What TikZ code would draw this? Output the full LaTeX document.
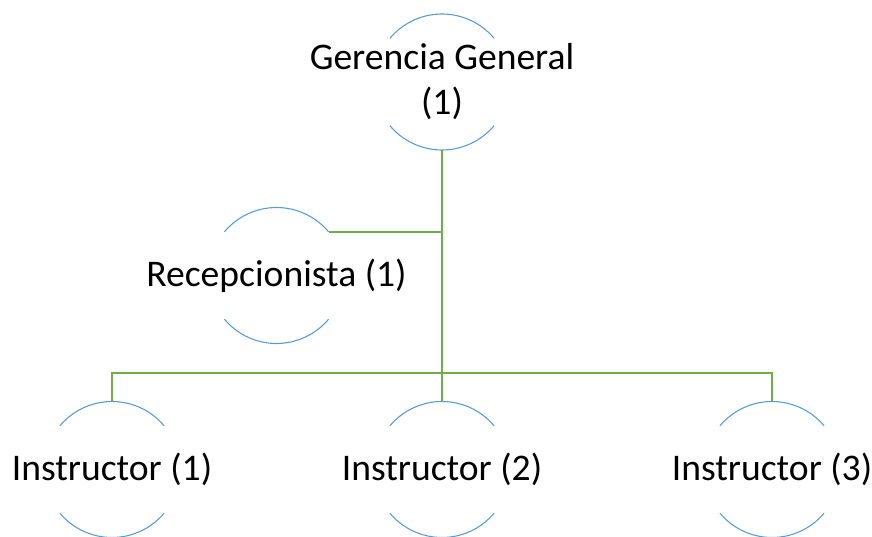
\documentclass[tikz,border=0pt]{standalone}
\usepackage{fontspec}
\setmainfont{Carlito}
\usetikzlibrary{calc}
\begin{document}
\begin{tikzpicture}[x=1pt,y=1pt,
  ring/.style={circle,draw=none,minimum size=136pt,inner sep=0pt,outer sep=0pt},
  ringarc/.style={draw=ringblue,line width=1.1pt},
  label/.style={font=\fontsize{37.6}{45}\selectfont,align=center,inner sep=0pt,text=black},
  link/.style={draw=linkgreen,line width=2pt}]
\definecolor{ringblue}{HTML}{5B9BD5}
\definecolor{linkgreen}{HTML}{70AD47}
\useasboundingbox (0,0) rectangle (872,536);

% circles (only their top and bottom arcs are drawn)
\node[ring] (g)  at (442,454)  {};
\node[ring] (r)  at (276.5,260.5) {};
\node[ring] (i1) at (112,66.5) {};
\node[ring] (i2) at (442,66.5) {};
\node[ring] (i3) at (772,66.5) {};

\foreach \n in {g,r,i1,i2,i3}{
  \draw[ringarc] (\n.40) arc[start angle=40,end angle=140,radius=68pt];
  \draw[ringarc] (\n.220) arc[start angle=220,end angle=320,radius=68pt];
}

% labels
\node[label] (gt)  at (g.center)  {Gerencia General\\(1)};
\node[label] (rt)  at (r.center)  {Recepcionista (1)};
\node[label] (i1t) at (i1.center) {Instructor (1)};
\node[label] (i2t) at (i2.center) {Instructor (2)};
\node[label] (i3t) at (i3.center) {Instructor (3)};

% connectors
\coordinate (bus) at ($(i1.north)+(0,28.8)$);
\draw[link] (g.south) -- (i2.north);
\draw[link] (r.40) -- (r.40 -| g.south);
\draw[link] (i1.north) -- (bus) -| (i3.north);
\end{tikzpicture}
\end{document}
